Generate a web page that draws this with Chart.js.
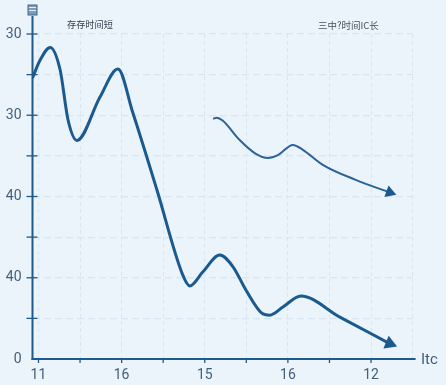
<!DOCTYPE html>
<html>
<head>
<meta charset="utf-8">
<style>
  html, body { margin: 0; padding: 0; background: #ebf3fb; }
  .canvasGraphic { position: relative; width: 446px; height: 385px; }
  canvas { display: block; }
</style>
<script src="https://cdn.jsdelivr.net/npm/chart.js@4/dist/chart.umd.min.js"></script>
</head>
<body>
<div class="canvasGraphic"><canvas id="myCanvas" width="446" height="385"></canvas></div>
<script>
// tick labels, as printed on the picture
const xLabels = ["11", "", "16", "", "15", "", "16", "", "12", ""];
const yLabels = ["0", "", "40", "", "40", "", "30", "", "30"];
const xAxisName = "Itc";
const leftNote = "存存时间短";
const rightNote = "三中?时间IC长";

// long curve
const shortX = [-0.144, 0.04, 0.28, 0.52, 0.71, 0.925, 1.48, 1.91, 2.27, 2.85, 3.47, 3.64, 3.95, 4.36, 4.68, 4.99, 5.4, 5.56, 5.88, 6.31, 7.25, 8.45];
const shortY = [6.92, 7.36, 7.67, 7.12, 5.89, 5.38, 6.45, 7.14, 6.06, 4.16, 2.07, 1.8, 2.14, 2.56, 2.27, 1.7, 1.11, 1.08, 1.28, 1.55, 1.03, 0.38];

// upper curve, starts at about the middle
const longX = [4.2, 4.29, 4.43, 4.84, 5.23, 5.52, 5.76, 6.12, 6.36, 6.84, 7.63, 8.45];
const longY = [5.91, 5.94, 5.87, 5.39, 5.05, 4.95, 5.02, 5.27, 5.15, 4.78, 4.41, 4.1];

const axisColor = "#1f5a8a";
const gridColor = "#d8e5f2";
const labelColor = "#41607c";

const toPoints = (xs, ys) => xs.map((x, i) => ({ x: x, y: ys[i] }));

const axisDecor = {
  id: "axisDecor",
  afterDraw(chart) {
    const { ctx } = chart;
    const x = chart.scales.x;
    const y = chart.scales.y;
    const left = chart.chartArea.left;
    const bottom = chart.chartArea.bottom;
    ctx.save();
    ctx.strokeStyle = axisColor;

    // axis lines
    ctx.lineWidth = 2;
    ctx.beginPath();
    ctx.moveTo(left, 16);
    ctx.lineTo(left, bottom + 1);
    ctx.stroke();
    ctx.beginPath();
    ctx.moveTo(left - 1, bottom);
    ctx.lineTo(chart.chartArea.right + 3, bottom);
    ctx.stroke();

    // tick marks
    ctx.lineWidth = 1.3;
    y.ticks.forEach((t) => {
      if (t.value === 0) return;
      const py = y.getPixelForValue(t.value);
      ctx.beginPath();
      ctx.moveTo(left - 6, py);
      ctx.lineTo(left + 5, py);
      ctx.stroke();
    });
    x.ticks.forEach((t) => {
      if (t.value === 9) return;
      const px = x.getPixelForValue(t.value);
      ctx.beginPath();
      ctx.moveTo(px, bottom);
      ctx.lineTo(px, bottom + 4);
      ctx.stroke();
    });

    // little icon on top of the y axis
    ctx.fillStyle = "#7f9cb4";
    ctx.fillRect(28, 5, 9, 10);
    ctx.strokeStyle = "#3f6b90";
    ctx.lineWidth = 1;
    ctx.strokeRect(28, 5, 9, 10);
    ctx.fillStyle = "#e4eef7";
    ctx.fillRect(29, 7, 7, 1);
    ctx.fillRect(29, 10, 7, 1);

    // notes over the plot
    ctx.fillStyle = "#2f3d4a";
    ctx.font = "9.2px 'Noto Sans CJK SC'";
    ctx.textBaseline = "middle";
    ctx.textAlign = "left";
    ctx.fillText(leftNote, 67, 25);
    ctx.fillStyle = "#47535e";
    ctx.font = "9.5px 'Noto Sans CJK SC'";
    ctx.fillText(rightNote, 318, 25);

    // x axis name
    ctx.fillStyle = labelColor;
    ctx.font = "15px Roboto";
    ctx.fillText(xAxisName, 421, 360);
    ctx.restore();
  },
};

const lastOnly = (n, on, off) => (c) => (c.dataIndex === n - 1 ? on : off);

new Chart(document.getElementById("myCanvas"), {
  type: "line",
  data: {
    datasets: [
      {
        data: toPoints(shortX, shortY),
        borderColor: "#1b5a8e",
        backgroundColor: "#1b5a8e",
        borderWidth: 3,
        cubicInterpolationMode: "monotone",
        pointStyle: "triangle",
        pointRadius: lastOnly(shortX.length, 8, 0),
        pointRotation: 112,
        pointBorderWidth: 0,
      },
      {
        data: toPoints(longX, longY),
        borderColor: "#2a6396",
        backgroundColor: "#1b5a8e",
        borderWidth: 2,
        cubicInterpolationMode: "monotone",
        pointStyle: "triangle",
        pointRadius: lastOnly(longX.length, 7, 0),
        pointRotation: 110,
        pointBorderWidth: 0,
      },
    ],
  },
  options: {
    responsive: false,
    animation: false,
    layout: { padding: { top: 34, right: 33.4, left: 0, bottom: 0 } },
    plugins: { legend: { display: false }, tooltip: { enabled: false } },
    scales: {
      x: {
        type: "linear",
        min: -0.144,
        max: 9,
        afterFit: (s) => { s.height = 26; },
        afterBuildTicks: (s) => { s.ticks = xLabels.map((_, i) => ({ value: i })); },
        border: { display: false, dash: [4, 3] },
        grid: { color: gridColor, lineWidth: 1, drawTicks: false },
        ticks: {
          autoSkip: false,
          maxRotation: 0,
          padding: 8,
          color: labelColor,
          font: { family: "Roboto", size: 14 },
          callback: (v) => xLabels[v],
        },
      },
      y: {
        min: 0,
        max: 8,
        afterFit: (s) => { s.width = 32.5; },
        afterBuildTicks: (s) => { s.ticks = yLabels.map((_, i) => ({ value: i })); },
        border: { display: false, dash: [7, 4] },
        grid: { color: gridColor, lineWidth: 1.2, drawTicks: false },
        ticks: {
          autoSkip: false,
          padding: 11,
          color: labelColor,
          font: { family: "Roboto", size: 14 },
          callback: (v) => yLabels[v],
        },
      },
    },
  },
  plugins: [axisDecor],
});
</script>
</body>
</html>
